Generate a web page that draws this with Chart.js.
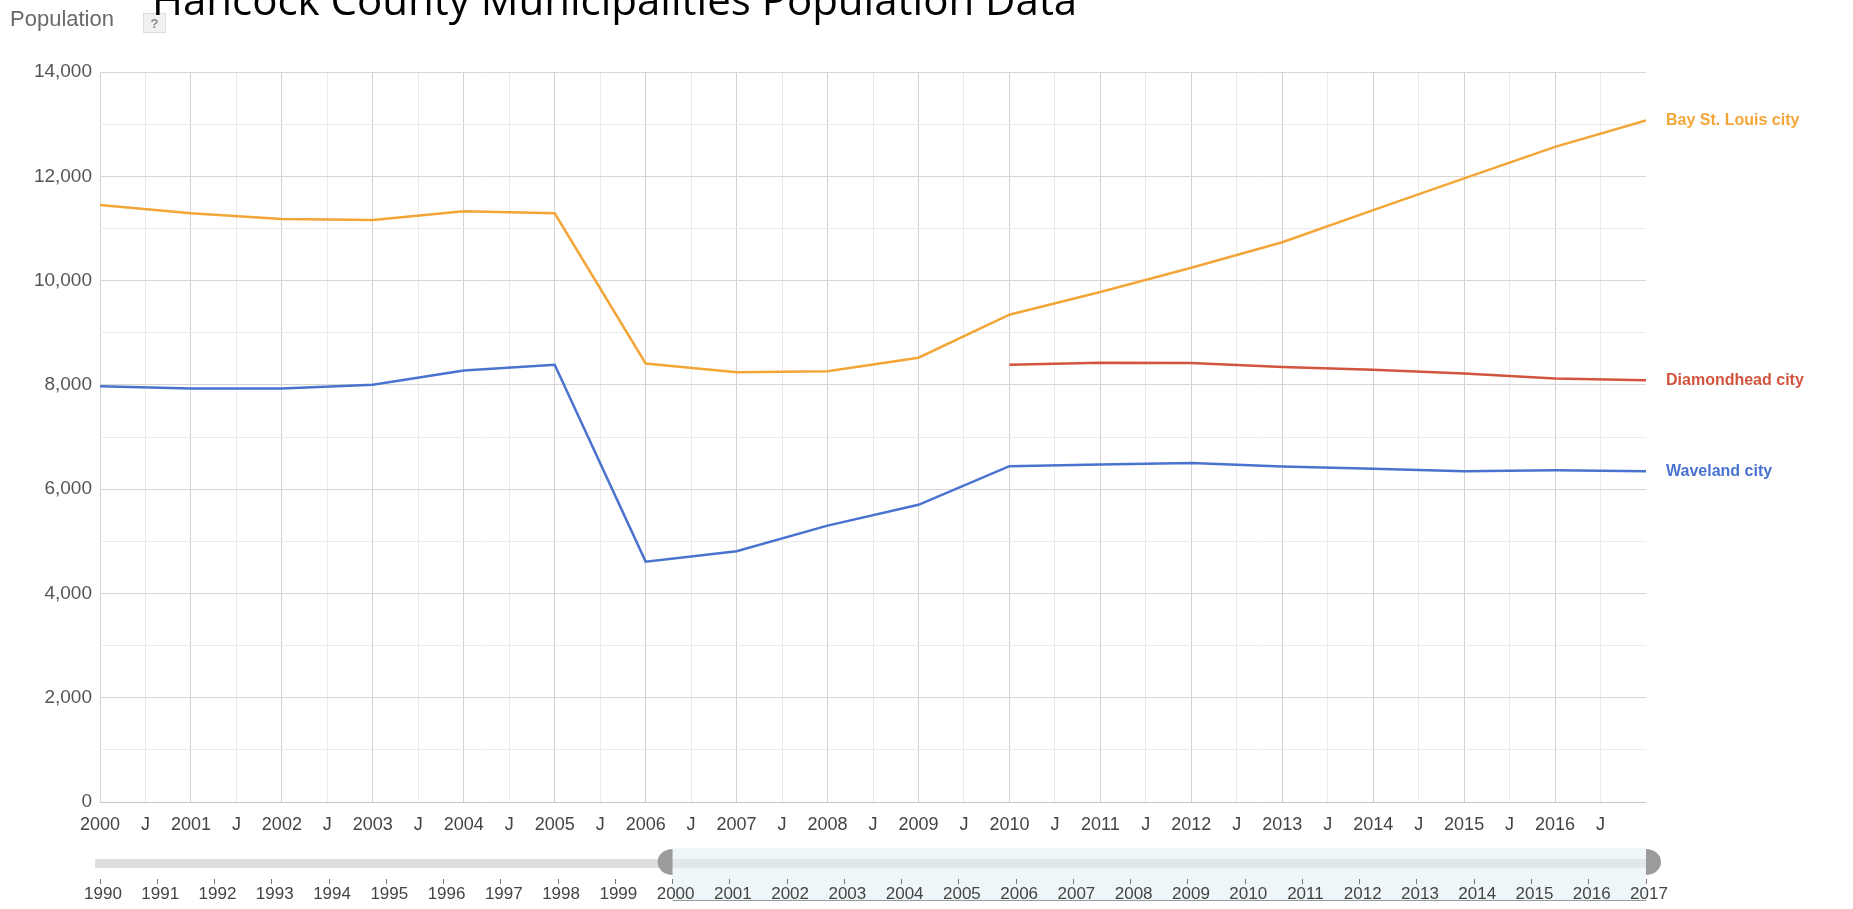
<!DOCTYPE html>
<html>
<head>
<meta charset="utf-8">
<title>Hancock County Municipalities Population Data</title>
<script src="https://cdn.jsdelivr.net/npm/chart.js@4.4.1/dist/chart.umd.min.js"></script>
<style>
  html, body { margin: 0; padding: 0; background: #fff; }
  #wrap { position: relative; width: 1853px; height: 909px; }
</style>
</head>
<body>
<div id="wrap"><canvas id="popChart" width="1853" height="909"></canvas></div>
<script>
const chartTitle = 'Hancock County Municipalities Population Data';
const axisTitle = 'Population';

const years = [2000, 2001, 2002, 2003, 2004, 2005, 2006, 2007, 2008, 2009,
               2010, 2011, 2012, 2013, 2014, 2015, 2016, 2017];
const bayStLouis = [11450, 11290, 11180, 11160, 11330, 11290, 8410, 8240, 8260, 8520,
                    9345, 9780, 10245, 10735, 11350, 11960, 12565, 13070];
const diamondhead = [null, null, null, null, null, null, null, null, null, null,
                     8385, 8426, 8420, 8342, 8292, 8216, 8120, 8090];
const waveland = [7975, 7930, 7930, 8000, 8275, 8385, 4610, 4810, 5300, 5700,
                  6440, 6473, 6500, 6432, 6390, 6345, 6364, 6345];

const seriesNames = ['Bay St. Louis city', 'Diamondhead city', 'Waveland city'];
const seriesColors = ['#f3a638', '#d3543e', '#4a72cf'];
const midYearLabel = 'J';

// bottom time slider
const sliderYears = [1990, 2017];
const sliderRange = [2000, 2017];

const FONT = "'Liberation Sans', Arial, sans-serif";

function points(values) {
  return years.map((yr, i) => ({ x: yr, y: values[i] }));
}

const headerPlugin = {
  id: 'header',
  afterDraw(chart) {
    const ctx = chart.ctx;
    ctx.save();
    // "Population" label and ? box
    ctx.font = '22px ' + FONT;
    ctx.fillStyle = '#6a6a6a';
    ctx.textBaseline = 'middle';
    ctx.fillText(axisTitle, 10, 20);
    ctx.fillStyle = '#f1f1f1';
    ctx.strokeStyle = '#dcdcdc';
    ctx.fillRect(143.5, 13.5, 22, 19);
    ctx.strokeRect(143.5, 13.5, 22, 19);
    ctx.fillStyle = '#8a8a8a';
    ctx.font = 'bold 13px ' + FONT;
    ctx.textAlign = 'center';
    ctx.fillText('?', 154.5, 24);
    // big title, clipped at the top like the screenshot
    ctx.textAlign = 'left';
    ctx.textBaseline = 'alphabetic';
    ctx.fillStyle = '#000';
    ctx.font = "42px 'Open Sans', sans-serif";
    ctx.fillText(chartTitle, 152, 15);
    ctx.restore();
  }
};

const sliderPlugin = {
  id: 'slider',
  beforeDraw(chart) {
    const xs = chart.scales.x2;
    const ctx = chart.ctx;
    const start = xs.getPixelForValue(sliderYears[0]) - 5;
    const a = xs.getPixelForValue(sliderRange[0]);
    const b = xs.getPixelForValue(sliderRange[1]);
    ctx.save();
    ctx.fillStyle = '#eef6fa';
    ctx.fillRect(a, 848, b - a, 52);
    ctx.fillStyle = '#dedede';
    ctx.fillRect(start, 859, a - start, 9);
    ctx.fillStyle = '#e1e7ea';
    ctx.fillRect(a, 859, b - a, 9);
    ctx.strokeStyle = '#9a9a9a';
    ctx.lineWidth = 1;
    ctx.beginPath();
    ctx.moveTo(a, 900.5);
    ctx.lineTo(b, 900.5);
    ctx.stroke();
    // handles
    ctx.fillStyle = '#9b9b9b';
    ctx.beginPath();
    ctx.ellipse(a, 862, 15, 13, 0, Math.PI / 2, Math.PI * 1.5);
    ctx.closePath();
    ctx.fill();
    ctx.beginPath();
    ctx.ellipse(b, 862, 15, 13, 0, -Math.PI / 2, Math.PI / 2);
    ctx.closePath();
    ctx.fill();
    ctx.restore();
  }
};

const endLabelPlugin = {
  id: 'endLabels',
  afterDatasetsDraw(chart) {
    const ctx = chart.ctx;
    ctx.save();
    ctx.font = 'bold 16px ' + FONT;
    ctx.textBaseline = 'middle';
    chart.data.datasets.forEach((ds, i) => {
      const meta = chart.getDatasetMeta(i);
      const last = meta.data[meta.data.length - 1];
      ctx.fillStyle = ds.borderColor;
      ctx.fillText(ds.label, chart.chartArea.right + 20, last.y);
    });
    ctx.restore();
  }
};

const seriesValues = [bayStLouis, diamondhead, waveland];

new Chart(document.getElementById('popChart'), {
  type: 'line',
  data: {
    datasets: seriesValues.map((vals, i) => ({
      label: seriesNames[i],
      data: points(vals),
      borderColor: seriesColors[i],
      backgroundColor: seriesColors[i],
      borderWidth: 2.5,
      pointRadius: 0,
      tension: 0,
      spanGaps: false
    }))
  },
  options: {
    responsive: false,
    animation: false,
    devicePixelRatio: 1,
    layout: { padding: { top: 72, right: 207, bottom: 0, left: 0 } },
    plugins: {
      legend: { display: false },
      tooltip: { enabled: false }
    },
    scales: {
      x: {
        type: 'linear',
        position: 'bottom',
        weight: 0,
        min: years[0],
        max: years[years.length - 1],
        afterFit: s => { s.height = 77; },
        border: { display: false },
        grid: {
          drawTicks: false,
          color: c => {
            const v = c.tick.value;
            if (v === years[years.length - 1]) return 'rgba(0,0,0,0)';
            return Number.isInteger(v) ? '#d3d3d3' : '#eaeaea';
          }
        },
        ticks: {
          stepSize: 0.5,
          autoSkip: false,
          maxRotation: 0,
          padding: 12,
          color: '#444',
          font: { family: FONT, size: 18 },
          callback: v => {
            if (v === years[years.length - 1]) return '';
            return Number.isInteger(v) ? String(v) : midYearLabel;
          }
        }
      },
      x2: {
        type: 'linear',
        position: 'bottom',
        weight: 1,
        min: sliderYears[0],
        max: sliderYears[1],
        afterFit: s => { s.height = 30; },
        border: { display: false },
        grid: {
          drawOnChartArea: false,
          drawTicks: true,
          tickLength: 5,
          tickColor: '#777',
          tickWidth: 1
        },
        ticks: {
          stepSize: 1,
          autoSkip: false,
          maxRotation: 0,
          padding: 0,
          labelOffset: 3,
          color: '#444',
          font: { family: FONT, size: 17 },
          callback: v => String(v)
        }
      },
      y: {
        min: 0,
        max: 14000,
        afterFit: s => { s.width = 100; },
        border: { display: false },
        grid: {
          drawTicks: false,
          color: c => {
            const v = c.tick.value;
            if (v === 0) return '#c4c4c4';
            return v % 2000 === 0 ? '#d6d6d6' : '#ebebeb';
          }
        },
        ticks: {
          stepSize: 1000,
          autoSkip: false,
          padding: 8,
          color: '#555',
          font: { family: FONT, size: 19 },
          callback: v => v % 2000 === 0 ? v.toLocaleString('en-US') : ''
        }
      }
    }
  },
  plugins: [sliderPlugin, endLabelPlugin, headerPlugin]
});
</script>
</body>
</html>
